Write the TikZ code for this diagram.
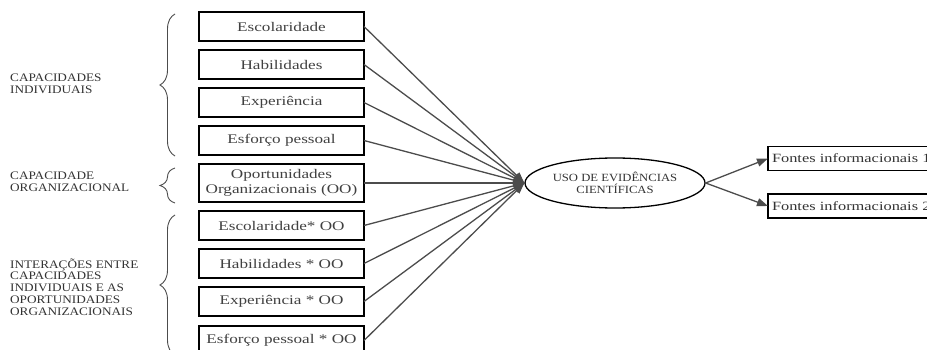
\documentclass[tikz,border=0pt]{standalone}
\usepackage{fontspec}
\setmainfont{Liberation Serif}
\newfontfamily\boxfont{Liberation Serif}[FakeStretch=1.3]
\newfontfamily\capfont{Liberation Serif}[FakeStretch=1.15]
\usepackage{tikz}
\usetikzlibrary{positioning,arrows.meta,decorations.pathreplacing,shapes.geometric}

\begin{document}
\begin{tikzpicture}[
    x=1pt, y=-1pt,
    node distance=9pt,
    factor/.style={draw, rectangle, line width=1.2pt, outer sep=0pt, minimum width=165pt,
                   minimum height=29pt, inner sep=2pt, align=center,
                   text=black!75, font=\boxfont\fontsize{13.2}{14.5}\selectfont},
    source/.style={draw, rectangle, line width=1.2pt, outer sep=0pt, minimum height=24pt,
                   text width=172pt, inner xsep=4pt, align=left,
                   text=black!80, font=\boxfont\fontsize{12.6}{14.5}\selectfont},
    group/.style={anchor=west, align=left, inner sep=0pt,
                  text=black!80, font=\capfont\fontsize{11.5}{11.8}\selectfont},
    link/.style={draw=black!70, line width=1.3pt, -{Triangle[length=11pt,width=8pt]}},
    curly/.style={draw=black!70, line width=0.9pt, decorate,
                  decoration={brace, amplitude=15pt}}
]
    \useasboundingbox (0,0) rectangle (927,350);

    % Factors in a column
    \node[factor] (esc) at (281.5,26.5) {Escolaridade};
    \node[factor, below=of esc] (hab) {Habilidades};
    \node[factor, below=of hab] (exp) {Experiência};
    \node[factor, below=of exp] (esf) {Esforço pessoal};
    \node[factor, below=of esf, minimum height=38pt] (opo) {Oportunidades\\Organizacionais (OO)};
    \node[factor, below=of opo] (escoo) {Escolaridade* OO};
    \node[factor, below=of escoo] (haboo) {Habilidades * OO};
    \node[factor, below=of haboo] (expoo) {Experiência * OO};
    \node[factor, below=of expoo, yshift=-1pt] (esfoo) {Esforço pessoal * OO};

    % Outcome and sources
    \node[draw, ellipse, line width=1.3pt, minimum width=180pt, minimum height=50pt,
          inner sep=0pt, align=center, text=black!80,
          font=\capfont\fontsize{11}{12}\selectfont] (uso) at (615,183)
          {USO DE EVIDÊNCIAS\\CIENTÍFICAS};
    \node[source, anchor=west] (font1) at (768,158.5) {Fontes informacionais 1};
    \node[source, anchor=west] (font2) at (768,206) {Fontes informacionais 2};

    % Group labels
    \node[group] (indiv) at (10,84) {CAPACIDADES\\INDIVIDUAIS};
    \node[group] (org) at (10,182) {CAPACIDADE\\ORGANIZACIONAL};
    \node[group] (inter) at (10,287) {INTERAÇÕES ENTRE\\CAPACIDADES\\INDIVIDUAIS E AS\\OPORTUNIDADES\\ORGANIZACIONAIS};

    % Braces
    \draw[curly] ([xshift=-24pt,yshift=-1pt]esf.south west) -- ([xshift=-24pt,yshift=-2pt]esc.north west);
    \draw[curly] ([xshift=-24pt,yshift=-1pt]opo.south west) -- ([xshift=-24pt,yshift=-4pt]opo.north west);
    \draw[curly] ([xshift=-24pt]esfoo.south west) -- ([xshift=-24pt,yshift=-4pt]escoo.north west);

    % Arrows
    \draw[link] (esc.east) -- (uso.west);
    \draw[link] (hab.east) -- (uso.west);
    \draw[link] (exp.east) -- (uso.west);
    \draw[link] (esf.east) -- (uso.west);
    \draw[link] (opo.east) -- (uso.west);
    \draw[link] (escoo.east) -- (uso.west);
    \draw[link] (haboo.east) -- (uso.west);
    \draw[link] (expoo.east) -- (uso.west);
    \draw[link] (esfoo.east) -- (uso.west);
    \draw[link] (uso.east) -- (font1.west);
    \draw[link] (uso.east) -- (font2.west);
\end{tikzpicture}
\end{document}
